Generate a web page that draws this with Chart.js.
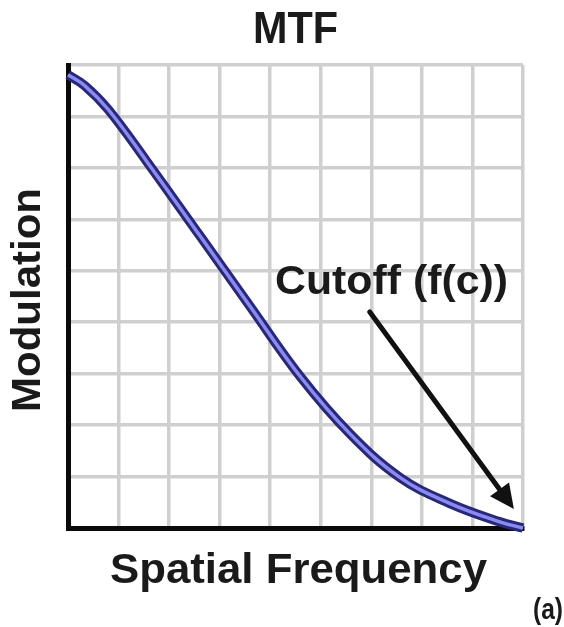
<!DOCTYPE html>
<html>
<head>
<meta charset="utf-8">
<script src="https://cdn.jsdelivr.net/npm/chart.js@4"></script>
<style>
    html, body { margin: 0; padding: 0; background: #fff; }
    #wrap { width: 564px; height: 627px; }
</style>
</head>
<body>
<div id="wrap"><canvas id="mtfChart" width="564" height="627"></canvas></div>
<script>
// spatial frequency (grid units, 0..9) and modulation (grid units, 0..9)
const freq = [0, 0.33, 0.8, 1.54, 2.61, 3.60, 4.59, 5.58, 6.57, 7.55, 8.54, 9.0];
const modulation = [8.81, 8.60, 8.13, 7.15, 5.68, 4.31, 2.95, 1.83, 0.98, 0.48, 0.12, 0.0];

// arrow from the label to the cutoff point
const arrowFrom = { x: 5.97, y: 4.2 };
const arrowTo = { x: 8.82, y: 0.37 };

const titleText = 'MTF';
const xTitle = 'Spatial Frequency';
const yTitle = 'Modulation';
const cutoffText = 'Cutoff (f(c))';
const panelText = '(a)';

(function () {
    const points = [];
    for (let i = 0; i < freq.length; i++) {
        points.push({ x: freq[i], y: modulation[i] });
    }

    // draw text squeezed/stretched to a given width
    function fitText(ctx, text, size, width) {
        ctx.font = 'bold ' + size + 'px "Liberation Sans", Arial, sans-serif';
        const w = ctx.measureText(text).width;
        ctx.scale(width / w, 1);
        ctx.fillText(text, 0, 0);
    }

    const textPlugin = {
        id: 'mtfText',
        afterDraw(chart) {
            const ctx = chart.ctx;
            const xs = chart.scales.x;
            const ys = chart.scales.y;
            ctx.save();
            ctx.fillStyle = '#1a1a1a';
            ctx.textBaseline = 'alphabetic';
            ctx.textAlign = 'left';

            // title
            ctx.save();
            ctx.translate(253, 43);
            fitText(ctx, titleText, 44, 85);
            ctx.restore();

            // y title
            ctx.save();
            ctx.translate(40, 412);
            ctx.rotate(-Math.PI / 2);
            fitText(ctx, yTitle, 40, 224);
            ctx.restore();

            // x title
            ctx.save();
            ctx.translate(110, 583);
            fitText(ctx, xTitle, 42, 377);
            ctx.restore();

            // panel tag
            ctx.save();
            ctx.translate(533, 619);
            fitText(ctx, panelText, 30, 30);
            ctx.restore();

            // cutoff label
            ctx.save();
            ctx.translate(275, 294);
            fitText(ctx, cutoffText, 40, 233);
            ctx.restore();

            // arrow
            const x1 = xs.getPixelForValue(arrowFrom.x);
            const y1 = ys.getPixelForValue(arrowFrom.y);
            const x2 = xs.getPixelForValue(arrowTo.x);
            const y2 = ys.getPixelForValue(arrowTo.y);
            const ang = Math.atan2(y2 - y1, x2 - x1);
            const head = 27;
            ctx.strokeStyle = '#111';
            ctx.lineWidth = 5;
            ctx.lineCap = 'round';
            ctx.beginPath();
            ctx.moveTo(x1, y1);
            ctx.lineTo(x2 - Math.cos(ang) * head * 0.8, y2 - Math.sin(ang) * head * 0.8);
            ctx.stroke();
            ctx.fillStyle = '#111';
            ctx.beginPath();
            ctx.moveTo(x2, y2);
            ctx.lineTo(x2 - Math.cos(ang - 0.45) * head, y2 - Math.sin(ang - 0.45) * head);
            ctx.lineTo(x2 - Math.cos(ang + 0.45) * head, y2 - Math.sin(ang + 0.45) * head);
            ctx.closePath();
            ctx.fill();

            ctx.restore();
        }
    };

    const ctx = document.getElementById('mtfChart').getContext('2d');

    new Chart(ctx, {
        type: 'line',
        data: {
            datasets: [{
                // dark outer edge of the curve
                data: points,
                borderColor: '#282878',
                borderWidth: 9.5,
                pointRadius: 0,
                tension: 0.4,
                clip: false,
                order: 2
            }, {
                // light core of the curve
                data: points,
                borderColor: '#8a8af0',
                borderWidth: 3.5,
                pointRadius: 0,
                tension: 0.4,
                clip: false,
                order: 1
            }]
        },
        options: {
            responsive: false,
            animation: false,
            events: [],
            layout: {
                padding: { left: 68, top: 65, right: 41, bottom: 99 }
            },
            plugins: {
                legend: { display: false },
                tooltip: { enabled: false }
            },
            scales: {
                x: {
                    type: 'linear',
                    min: 0,
                    max: 9,
                    ticks: { display: false, stepSize: 1 },
                    grid: { color: '#cfcfcf', lineWidth: 3.5, drawTicks: false },
                    border: { color: '#0a0a0a', width: 5 }
                },
                y: {
                    type: 'linear',
                    min: 0,
                    max: 9,
                    ticks: { display: false, stepSize: 1 },
                    grid: { color: '#cfcfcf', lineWidth: 3.5, drawTicks: false },
                    border: { color: '#0a0a0a', width: 5 }
                }
            }
        },
        plugins: [textPlugin]
    });
})();
</script>
</body>
</html>
